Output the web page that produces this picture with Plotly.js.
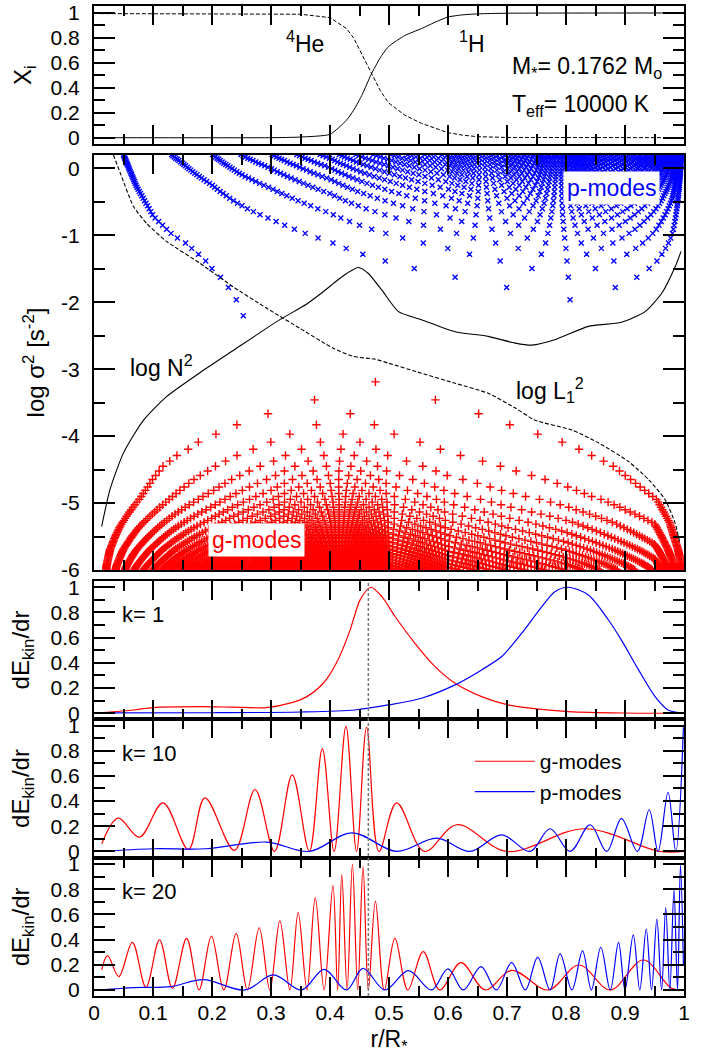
<!DOCTYPE html>
<html>
<head>
<meta charset="utf-8">
<script src="https://cdn.plot.ly/plotly-3.0.1.min.js"></script>
<style>html,body{margin:0;padding:0;background:#fff;}#chart{width:714px;height:1059px;}</style>
</head>
<body>
<div id="chart"></div>
<script>
// ---------------- data ----------------
// Top panel: chemical profiles
const chemX  = [0.01, 0.30, 0.35, 0.40, 0.428, 0.44, 0.455, 0.47, 0.485, 0.499, 0.527, 0.555, 0.58, 0.60, 0.625, 0.651, 0.70, 1.0];
const heX    = [0.995, 0.995, 0.99, 0.963, 0.875, 0.80, 0.66, 0.51, 0.38, 0.28, 0.18, 0.115, 0.07, 0.04, 0.02, 0.008, 0.002, 0.0];
const hX     = [0.0, 0.0, 0.005, 0.027, 0.14, 0.22, 0.35, 0.51, 0.64, 0.73, 0.82, 0.875, 0.93, 0.968, 0.985, 0.993, 0.998, 1.0];

// Main panel: Brunt-Vaisala and Lamb frequencies
const n2X   = [0.013, 0.027, 0.05, 0.084, 0.123, 0.18, 0.236, 0.315, 0.36, 0.389, 0.41, 0.428, 0.448, 0.465, 0.488, 0.516, 0.555, 0.612, 0.668, 0.714, 0.742, 0.781, 0.838, 0.894, 0.934, 0.962, 0.985, 0.995];
const n2Y   = [-5.35, -4.8, -4.25, -3.76, -3.41, -3.05, -2.72, -2.26, -2.03, -1.84, -1.69, -1.57, -1.48, -1.57, -1.82, -2.14, -2.26, -2.44, -2.51, -2.61, -2.64, -2.56, -2.36, -2.30, -2.14, -1.87, -1.47, -1.24];
const l1X   = [0.033, 0.045, 0.067, 0.09, 0.123, 0.18, 0.236, 0.293, 0.349, 0.406, 0.44, 0.476, 0.499, 0.555, 0.612, 0.668, 0.714, 0.747, 0.81, 0.855, 0.906, 0.94, 0.968, 0.985, 0.993];
const l1Y   = [0.2, -0.08, -0.57, -0.83, -1.09, -1.42, -1.77, -2.09, -2.39, -2.69, -2.81, -2.85, -2.91, -3.06, -3.21, -3.36, -3.58, -3.76, -3.91, -4.10, -4.38, -4.65, -4.95, -5.30, -5.6];

// p-modes: log sigma^2 of each mode k = 1..49
const pLogSigma2 = [-2.200,-1.964,-1.779,-1.627,-1.497,-1.384,-1.284,-1.195,-1.114,-1.040,-0.971,-0.908,-0.849,-0.793,-0.741,-0.692,-0.646,-0.602,-0.560,-0.520,-0.482,-0.445,-0.410,-0.376,-0.344,-0.312,-0.282,-0.253,-0.224,-0.197,-0.170,-0.145,-0.120,-0.095,-0.072,-0.049,-0.026,-0.004,0.017,0.038,0.058,0.078,0.097,0.116,0.135,0.153,0.171,0.189,0.206];
// innermost node of the p-modes (read along the left branch)
const pInnerY = [-2.2, -1.94, -1.74, -1.59, -1.49, -1.38, -1.29, -1.22, -1.14, -1.0, -0.72, -0.27, 0.2];
const pInnerX = [0.253, 0.240, 0.225, 0.211, 0.199, 0.189, 0.178, 0.168, 0.16, 0.134, 0.101, 0.072, 0.05];
// node-phase table of the p-modes (fraction of the acoustic cavity)
const pPhaseX = [0, 0.05, 0.1, 0.15, 0.2, 0.25, 0.3, 0.35, 0.4, 0.45, 0.5, 0.55, 0.6, 0.65, 0.7, 0.75, 0.8, 0.85, 0.9, 0.95, 0.98, 1.0];
const pPhase  = [0, 0.01, 0.022, 0.035, 0.05, 0.071, 0.09, 0.114, 0.14, 0.176, 0.21, 0.245, 0.28, 0.33, 0.375, 0.44, 0.52, 0.62, 0.72, 0.83, 0.91, 1.0];

// g-modes: log sigma^2 of each mode k = 1..68
const gLogSigma2 = [-3.190,-3.459,-3.665,-3.831,-3.970,-4.090,-4.195,-4.289,-4.374,-4.451,-4.522,-4.588,-4.649,-4.706,-4.759,-4.810,-4.857,-4.903,-4.945,-4.986,-5.025,-5.063,-5.099,-5.133,-5.166,-5.198,-5.229,-5.258,-5.287,-5.315,-5.342,-5.368,-5.393,-5.418,-5.442,-5.465,-5.488,-5.510,-5.532,-5.553,-5.573,-5.593,-5.613,-5.632,-5.651,-5.669,-5.687,-5.705,-5.722,-5.739,-5.756,-5.772,-5.788,-5.804,-5.819,-5.834,-5.849,-5.864,-5.878,-5.893,-5.907,-5.920,-5.934,-5.947,-5.960,-5.973,-5.986,-5.999];
// innermost and outermost nodes of the g-modes
const gLeftY  = [-5.95, -5.7, -5.5, -5.35, -5.2, -5.05, -4.93, -4.63, -4.45, -4.35, -4.25, -4.19, -4.07, -3.95, -3.82, -3.64, -3.41, -3.19];
const gLeftX  = [0.021, 0.027, 0.036, 0.044, 0.055, 0.067, 0.078, 0.1005, 0.117, 0.132, 0.146, 0.161, 0.18, 0.212, 0.245, 0.303, 0.393, 0.477];
const gRightY = [-6.0, -5.9, -5.7, -5.3, -4.95, -4.70, -4.43, -4.30, -4.19, -4.07, -3.95, -3.82, -3.64, -3.41, -3.19];
const gRightX = [0.996, 0.995, 0.990, 0.976, 0.954, 0.917, 0.877, 0.846, 0.821, 0.788, 0.745, 0.701, 0.644, 0.561, 0.477];
// node-phase table of the g-modes (buoyancy radius)
const gPhaseX = [0, 0.1, 0.2, 0.3, 0.4, 0.45, 0.5, 0.6, 0.7, 0.8, 0.9, 0.95, 1.0];
const gPhase  = [0, 0.015, 0.031, 0.050, 0.077, 0.095, 0.110, 0.125, 0.134, 0.141, 0.149, 0.153, 0.163];

// Kinetic energy densities (extrema)
const k1gX = [0.013,0.067,0.1,0.18,0.236,0.293,0.332,0.36,0.389,0.411,0.434,0.442,0.451,0.469,0.488,0.51,0.544,0.578,0.612,0.657,0.702,0.753,0.804,0.894,1.0];
const k1gY = [0.005,0.026,0.045,0.052,0.048,0.045,0.08,0.13,0.24,0.40,0.66,0.78,0.90,1.0,0.925,0.77,0.555,0.37,0.238,0.132,0.066,0.032,0.013,0.002,0.0];
const k1pX = [0.013,0.2,0.35,0.442,0.499,0.555,0.612,0.657,0.691,0.725,0.759,0.781,0.804,0.838,0.872,0.894,0.923,0.951,0.973,1.0];
const k1pY = [0.003,0.004,0.01,0.026,0.066,0.119,0.225,0.344,0.45,0.635,0.846,0.965,1.0,0.939,0.74,0.58,0.344,0.132,0.026,0.0];

const k10gX = [0.013,0.041,0.077,0.117,0.16,0.188,0.238,0.273,0.306,0.336,0.365,0.387,0.407,0.427,0.445,0.462,0.483,0.513,0.56,0.615,0.70,0.832,0.959,1.0];
const k10gY = [0.06,0.265,0.113,0.386,0.016,0.426,0.008,0.492,0.0,0.609,0.0,0.817,0.0,0.994,0.0,0.987,0.0,0.386,0.0,0.212,0.0,0.18,0.0,0.0];
const k10pX = [0.013,0.1,0.19,0.293,0.365,0.437,0.513,0.581,0.637,0.691,0.739,0.773,0.807,0.841,0.869,0.894,0.921,0.941,0.956,0.973,0.986,0.999];
const k10pY = [0.0,0.021,0.021,0.074,0.0,0.148,0.0,0.106,0.0,0.132,0.0,0.18,0.0,0.212,0.0,0.26,0.0,0.331,0.0,0.47,0.0,0.987];

const k20gX = [0.013,0.023,0.042,0.065,0.088,0.111,0.133,0.157,0.178,0.199,0.22,0.241,0.26,0.28,0.298,0.315,0.332,0.346,0.361,0.375,0.39,0.405,0.413,0.42,0.429,0.438,0.447,0.456,0.465,0.477,0.492,0.51,0.532,0.558,0.586,0.622,0.663,0.708,0.77,0.822,0.875,0.931,0.979,1.0];
const k20gY = [0.159,0.272,0.106,0.378,0.021,0.397,0.013,0.41,0,0.428,0,0.45,0,0.494,0,0.548,0,0.614,0,0.733,0,0.83,0,0.918,0,1.0,0,0.979,0,0.706,0,0.41,0,0.304,0,0.217,0,0.156,0,0.198,0,0.238,0.013,0.0];
const k20pX = [0.013,0.067,0.13,0.185,0.256,0.304,0.352,0.39,0.428,0.456,0.493,0.533,0.572,0.6,0.626,0.656,0.682,0.708,0.731,0.752,0.773,0.79,0.81,0.828,0.843,0.859,0.875,0.889,0.9,0.914,0.925,0.936,0.945,0.954,0.962,0.969,0.976,0.983,0.989,0.994,0.999];
const k20pY = [0,0.019,0.026,0.082,0,0.119,0,0.164,0,0.172,0,0.153,0,0.167,0,0.185,0,0.217,0,0.259,0,0.286,0,0.31,0,0.339,0,0.378,0,0.437,0,0.484,0,0.563,0,0.653,0,0.794,0,0.992,0.2];

const xTickVals = [0, 0.1, 0.2, 0.3, 0.4, 0.5, 0.6, 0.7, 0.8, 0.9, 1];
const xTickText = ['0', '0.1', '0.2', '0.3', '0.4', '0.5', '0.6', '0.7', '0.8', '0.9', '1'];
const mainTickVals = [-6, -5, -4, -3, -2, -1, 0];
const mainTickText = ['-6', '-5', '-4', '-3', '-2', '-1', '0'];
const boundaryX = 0.465;

// ---------------- helpers ----------------
function interp(xs, ys, x) {
  const n = xs.length;
  if (x <= xs[0]) return ys[0];
  if (x >= xs[n - 1]) return ys[n - 1];
  for (let i = 1; i < n; i++) {
    if (x <= xs[i]) { const t = (x - xs[i - 1]) / (xs[i] - xs[i - 1]); return ys[i - 1] + t * (ys[i] - ys[i - 1]); }
  }
  return ys[n - 1];
}
// p-mode nodes
const pNodeX = [], pNodeY = [];
pLogSigma2.forEach((lv, i) => {
  const k = i + 1;
  const x1 = interp(pInnerY, pInnerX, lv);
  const ph1 = interp(pPhaseX, pPhase, x1);
  for (let j = 0; j < k; j++) {
    const ph = ph1 + j * (1 - ph1) / k;
    pNodeX.push(interp(pPhase, pPhaseX, ph)); pNodeY.push(lv);
  }
});
// g-mode nodes
const gNodeX = [], gNodeY = [];
gLogSigma2.forEach((lv, i) => {
  const k = i + 1;
  const xl = interp(gLeftY, gLeftX, lv), xr = interp(gRightY, gRightX, lv);
  const pl = interp(gPhaseX, gPhase, xl), pr = interp(gPhaseX, gPhase, xr);
  for (let j = 0; j < k; j++) {
    const ph = k === 1 ? pl : pl + j * (pr - pl) / (k - 1);
    gNodeX.push(interp(gPhase, gPhaseX, ph)); gNodeY.push(lv);
  }
});

// ---------------- traces ----------------
const RED = '#ff0000', BLUE = '#0000ff';
const traces = [
  {x: chemX, y: heX, xaxis: 'x', yaxis: 'y', mode: 'lines', line: {color: 'black', width: 1, dash: '4px,2px'}, showlegend: false, name: '4He'},
  {x: chemX, y: hX, xaxis: 'x', yaxis: 'y', mode: 'lines', line: {color: 'black', width: 1, shape: 'spline', smoothing: 0.5}, showlegend: false, name: '1H'},
  {x: pNodeX, y: pNodeY, xaxis: 'x2', yaxis: 'y2', mode: 'markers', marker: {symbol: 'x-thin', size: 5, color: BLUE, line: {color: BLUE, width: 1.4}}, showlegend: false, name: 'p-mode nodes'},
  {x: gNodeX, y: gNodeY, xaxis: 'x2', yaxis: 'y2', mode: 'markers', marker: {symbol: 'cross-thin', size: 6, color: RED, line: {color: RED, width: 1.4}}, showlegend: false, name: 'g-mode nodes'},
  {x: n2X, y: n2Y, xaxis: 'x2', yaxis: 'y2', mode: 'lines', line: {color: 'black', width: 1.1, shape: 'spline', smoothing: 0.6}, showlegend: false, name: 'log N2'},
  {x: l1X, y: l1Y, xaxis: 'x2', yaxis: 'y2', mode: 'lines', line: {color: 'black', width: 1.1, dash: '4px,2px', shape: 'spline', smoothing: 0.6}, showlegend: false, name: 'log L1^2'},
  {x: k1gX, y: k1gY, xaxis: 'x3', yaxis: 'y3', mode: 'lines', line: {color: RED, width: 1.2, shape: 'spline', smoothing: 0.8}, showlegend: false, name: 'g k=1'},
  {x: k1pX, y: k1pY, xaxis: 'x3', yaxis: 'y3', mode: 'lines', line: {color: BLUE, width: 1.2, shape: 'spline', smoothing: 0.8}, showlegend: false, name: 'p k=1'},
  {x: k10gX, y: k10gY, xaxis: 'x4', yaxis: 'y4', mode: 'lines', line: {color: RED, width: 1.2, shape: 'spline', smoothing: 1}, showlegend: true, name: 'g-modes'},
  {x: k10pX, y: k10pY, xaxis: 'x4', yaxis: 'y4', mode: 'lines', line: {color: BLUE, width: 1.2, shape: 'spline', smoothing: 1}, showlegend: true, name: 'p-modes'},
  {x: k20gX, y: k20gY, xaxis: 'x5', yaxis: 'y5', mode: 'lines', line: {color: RED, width: 1.2, shape: 'spline', smoothing: 1}, showlegend: false, name: 'g k=20'},
  {x: k20pX, y: k20pY, xaxis: 'x5', yaxis: 'y5', mode: 'lines', line: {color: BLUE, width: 1.2, shape: 'spline', smoothing: 1}, showlegend: false, name: 'p k=20'}
];

// ---------------- layout ----------------
const FONT = '"Liberation Sans", Arial, Helvetica, sans-serif';
function xAx(anchor, labels) {
  return {
    anchor: anchor, range: [0, 1], domain: [0, 1], showgrid: false, zeroline: false,
    showline: true, linewidth: 2, linecolor: 'black', mirror: 'allticks',
    ticks: 'inside', ticklen: 19, tickwidth: 2, tickcolor: 'black',
    tickmode: 'array', tickvals: xTickVals, ticktext: xTickText,
    minor: {ticks: 'inside', dtick: 0.05, tick0: 0, ticklen: 10, tickwidth: 2, tickcolor: 'black', showgrid: false},
    showticklabels: labels, tickfont: {size: 21, color: 'black'}, ticklabelstandoff: -3
  };
}
function yAx(anchor, dom, range, dtick, minorDtick, title, standoff) {
  return {
    anchor: anchor, domain: dom, range: range, showgrid: false, zeroline: false,
    showline: true, linewidth: 2, linecolor: 'black', mirror: 'allticks',
    ticks: 'inside', ticklen: 21, tickwidth: 2, tickcolor: 'black',
    dtick: dtick, tick0: 0,
    minor: {ticks: 'inside', dtick: minorDtick, tick0: 0, ticklen: 11, tickwidth: 2, tickcolor: 'black', showgrid: false},
    tickfont: {size: 21, color: 'black'}, ticklabelstandoff: 8,
    title: {text: title, font: {size: 24, color: 'black'}, standoff: standoff}
  };
}
const yMain = yAx('x2', [0.4303, 0.8495], [-6, 0.2], 1, 0.5, 'log σ<sup>2</sup> [s<sup>-2</sup>]', 10);
yMain.tickmode = 'array'; yMain.tickvals = mainTickVals; yMain.ticktext = mainTickText;
const xBottom = xAx('y5', true);
xBottom.title = {text: 'r/R<sub>*</sub>', font: {size: 23, color: 'black'}, standoff: 8};

const annFont = {family: FONT, size: 23, color: 'black'};
const layout = {
  width: 714, height: 1059,
  margin: {l: 94, r: 30, t: 6, b: 63},
  paper_bgcolor: 'white', plot_bgcolor: 'white',
  font: {family: FONT, color: 'black'},
  xaxis: xAx('y', false), xaxis2: xAx('y2', false), xaxis3: xAx('y3', false), xaxis4: xAx('y4', false), xaxis5: xBottom,
  yaxis: yAx('x', [0.8603, 1], [-0.053, 1.056], 0.2, 0.1, 'X<sub>i</sub>', 12),
  yaxis2: yMain,
  yaxis3: yAx('x3', [0.2795, 0.4195], [-0.048, 1.052], 0.2, 0.1, 'dE<sub>kin</sub>/dr', 14),
  yaxis4: yAx('x4', [0.1397, 0.2795], [-0.05, 1.05], 0.2, 0.1, 'dE<sub>kin</sub>/dr', 14),
  yaxis5: yAx('x5', [0, 0.1397], [-0.048, 1.05], 0.2, 0.1, 'dE<sub>kin</sub>/dr', 14),
  showlegend: true,
  legend: {x: 0.637, y: 0.2575, xanchor: 'left', yanchor: 'top', bgcolor: 'rgba(0,0,0,0)', font: {family: FONT, size: 21, color: 'black'}, itemwidth: 60, tracegroupgap: 0},
  shapes: [
    {type: 'line', xref: 'x3', yref: 'paper', x0: boundaryX, x1: boundaryX, y0: 0, y1: 0.4195, line: {color: '#777777', width: 1.5, dash: '3px,2px'}, layer: 'above'}
  ],
  annotations: [
    {xref: 'x', yref: 'y', x: 0.357, y: 0.77, text: '<sup>4</sup>He', showarrow: false, font: annFont},
    {xref: 'x', yref: 'y', x: 0.64, y: 0.77, text: '<sup>1</sup>H', showarrow: false, font: annFont},
    {xref: 'x', yref: 'y', x: 0.705, y: 0.56, xanchor: 'left', text: 'M<sub>*</sub>= 0.1762 M<sub>o</sub>', showarrow: false, font: annFont},
    {xref: 'x', yref: 'y', x: 0.705, y: 0.26, xanchor: 'left', text: 'T<sub>eff</sub>= 10000 K', showarrow: false, font: annFont},
    {xref: 'x2', yref: 'y2', x: 0.877, y: -0.287, text: 'p-modes', showarrow: false, bgcolor: 'white', borderpad: 3, font: {family: FONT, size: 23, color: BLUE}},
    {xref: 'x2', yref: 'y2', x: 0.276, y: -5.548, text: 'g-modes', showarrow: false, bgcolor: 'white', borderpad: 3, font: {family: FONT, size: 23, color: RED}},
    {xref: 'x2', yref: 'y2', x: 0.114, y: -2.95, text: 'log N<sup>2</sup>', showarrow: false, font: annFont},
    {xref: 'x2', yref: 'y2', x: 0.773, y: -3.31, text: 'log L<sub>1</sub><sup>2</sup>', showarrow: false, font: annFont},
    {xref: 'x3', yref: 'y3', x: 0.044, y: 0.78, xanchor: 'left', text: 'k= 1', showarrow: false, font: {family: FONT, size: 22, color: 'black'}},
    {xref: 'x4', yref: 'y4', x: 0.044, y: 0.775, xanchor: 'left', text: 'k= 10', showarrow: false, font: {family: FONT, size: 22, color: 'black'}},
    {xref: 'x5', yref: 'y5', x: 0.044, y: 0.78, xanchor: 'left', text: 'k= 20', showarrow: false, font: {family: FONT, size: 22, color: 'black'}}
  ]
};
Plotly.newPlot('chart', traces, layout, {displayModeBar: false, staticPlot: true});
</script>
</body>
</html>
